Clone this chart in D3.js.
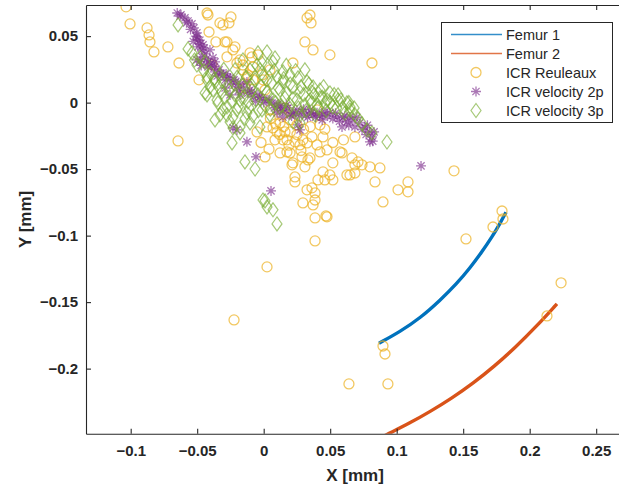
<!DOCTYPE html>
<html>
<head>
<meta charset="utf-8">
<script src="https://cdn.jsdelivr.net/npm/d3@7"></script>
<style>
  body { margin: 0; background: #fff; }
  text { font-family: "Liberation Sans", Arial, sans-serif; }
</style>
</head>
<body>
<div id="plot"></div>
<script>
// chart data, in mm
const xTicks = [-0.1, -0.05, 0, 0.05, 0.1, 0.15, 0.2, 0.25];
const yTicks = [-0.2, -0.15, -0.1, -0.05, 0, 0.05];
const seriesNames = ["Femur 1", "Femur 2", "ICR Reuleaux", "ICR velocity 2p", "ICR velocity 3p"];

const femur1 = [
  [0.0867, -0.1809], [0.1025, -0.1722], [0.1175, -0.1621], [0.1325, -0.1488],
  [0.1451, -0.1362], [0.1551, -0.1243], [0.1639, -0.1125], [0.1718, -0.1008],
  [0.1775, -0.0912], [0.1822, -0.0824]
];
const femur2 = [
  [0.085, -0.2535], [0.0935, -0.2491], [0.1095, -0.2411], [0.1255, -0.2321],
  [0.1415, -0.2222], [0.1575, -0.211], [0.1735, -0.1982], [0.1895, -0.1838],
  [0.2055, -0.1678], [0.2205, -0.1513]
];

const reuleaux = [
  [-0.1035, 0.072], [-0.1005, 0.0592], [-0.0877, 0.0562], [-0.0862, 0.0509], [-0.0855, 0.0456],
  [-0.0825, 0.0381], [-0.072, 0.0419], [-0.0637, 0.0298], [-0.0426, 0.0674], [-0.0419, 0.0659],
  [-0.0306, 0.0584], [-0.0246, 0.0644], [-0.0261, 0.0599], [-0.0411, 0.0531], [-0.0359, 0.0456],
  [-0.0276, 0.0456], [-0.0216, 0.0419], [-0.0231, 0.0396], [-0.0088, 0.0344], [-0.0043, 0.0359],
  [0.022, 0.0298], [-0.0486, 0.0171], [-0.0644, -0.0288], [0.001, -0.0408], [0.01, -0.022],
  [0.0175, -0.028], [0.0198, -0.0378], [0.022, -0.0453], [0.0288, -0.0408], [0.0348, -0.0416],
  [0.031, -0.0483], [0.0235, -0.0596], [0.0326, -0.0656], [0.0363, -0.0641], [0.0386, -0.0679],
  [0.0295, -0.0754], [0.0371, -0.0769], [0.0386, -0.0732], [0.0386, -0.0867], [0.0468, -0.0852],
  [0.0386, -0.104], [0.0025, -0.1235], [-0.0223, -0.1634], [0.046, -0.0581], [0.052, -0.0581],
  [0.0085, -0.028], [0.0145, -0.028], [0.016, -0.022], [0.0235, -0.0295], [0.0295, -0.028],
  [0.0363, -0.0258], [0.0423, -0.0168], [0.0401, -0.0318], [0.0273, -0.0318], [0.0333, -0.0431],
  [0.0423, -0.0371], [0.0574, -0.0371], [0.0589, -0.0378], [0.0664, -0.0416], [0.0686, -0.0468],
  [0.0709, -0.0446], [0.0649, -0.0544], [0.0799, -0.0483], [0.0874, -0.0491], [0.0498, -0.0544],
  [0.0446, -0.0521], [0.0408, -0.0581], [0.0235, -0.0559], [0.0213, -0.0468], [0.0123, -0.0378],
  [0.0175, -0.0371], [0.0446, -0.0258], [0.0476, -0.0356], [0.0686, -0.0258], [0.007, -0.019],
  [0.0326, -0.0303], [0.052, -0.0453], [0.0739, -0.0468], [0.0686, -0.0529], [0.0626, -0.0544],
  [0.0837, -0.0596], [0.0897, -0.0747], [0.101, -0.0656], [0.1085, -0.0596], [0.1085, -0.0671],
  [0.1431, -0.0513], [0.0476, -0.0859], [0.1521, -0.1025], [0.1724, -0.0935], [0.1792, -0.0815],
  [0.1799, -0.0875], [0.0326, 0.0637], [0.0348, 0.0659], [0.0356, 0.0599], [0.031, 0.0456],
  [0.0371, 0.0396], [0.0498, 0.0359], [0.0814, 0.0298], [-0.0329, 0.0599], [-0.0291, 0.0456],
  [-0.0103, 0.0374], [-0.0276, 0.0344], [-0.0201, 0.0298], [-0.0156, 0.0283], [-0.008, 0.0268],
  [-0.0013, 0.0208], [-0.0005, 0.0171], [-0.0126, 0.0193], [0.2236, -0.1355], [0.213, -0.1604],
  [0.0897, -0.183], [0.0912, -0.189], [0.0641, -0.2115], [0.0934, -0.2115], [-0.005, -0.022],
  [0.0025, -0.0183], [0.0123, -0.0153], [-0.0118, 0.0208], [-0.008, 0.0171], [-0.0156, 0.0246],
  [0.001, 0.0095], [0.0137, -0.0092], [0.0198, -0.013], [0.025, -0.0168], [0.016, -0.004],
  [0.0047, -0.0055], [-0.0178, 0.0321], [-0.0389, 0.0284], [0.0047, 0.0246], [0.0401, -0.0055],
  [-0.0141, 0.011], [0.005, -0.012], [0.009, -0.016], [0.015, -0.018], [0.02, -0.022],
  [0.025, -0.024], [0.03, -0.02], [0.035, -0.018], [0.012, -0.024], [0.019, -0.032],
  [0.028, -0.036], [0.046, -0.02], [0.052, -0.03], [0.06, -0.028], [-0.002, -0.03],
  [0.004, -0.035]
];

const velocity2p = [
  [-0.065, 0.0674], [-0.0622, 0.066], [-0.0592, 0.0637], [-0.0569, 0.0614], [-0.0539, 0.0592],
  [-0.0524, 0.0562], [-0.0502, 0.0524], [-0.0502, 0.0494], [-0.0494, 0.0471], [-0.0479, 0.0441],
  [-0.0494, 0.0419], [-0.0456, 0.0434], [-0.0464, 0.0396], [-0.0404, 0.0396], [-0.0441, 0.0366],
  [-0.0464, 0.0344], [-0.0381, 0.0336], [-0.0502, 0.0321], [-0.0479, 0.0306], [-0.0419, 0.0306],
  [-0.0419, 0.0268], [-0.0389, 0.0276], [-0.0366, 0.0231], [-0.0336, 0.0246], [-0.0306, 0.0208],
  [-0.0283, 0.0216], [-0.0253, 0.0186], [-0.0223, 0.0171], [-0.0201, 0.0118], [-0.0171, 0.014],
  [-0.0126, 0.0155], [-0.0103, 0.0095], [-0.008, 0.0043], [-0.0043, 0.0058], [-0.0013, 0.0035],
  [0.0025, 0.002], [0.0062, -0.0002], [0.01, -0.0017], [0.0123, -0.0032], [0.0153, -0.0055],
  [0.0182, -0.004], [0.022, -0.0077], [0.025, -0.0055], [0.0288, -0.007], [0.0318, -0.0092],
  [0.0348, -0.0055], [0.0371, -0.0092], [0.0401, -0.0077], [0.0446, -0.0092], [0.0461, -0.007],
  [0.0498, -0.0077], [0.0551, -0.0108], [0.0596, -0.0115], [0.0626, -0.0145], [0.0649, -0.0108],
  [0.0671, -0.013], [0.0686, -0.0183], [0.0589, -0.0183], [0.0724, -0.0153], [0.0762, -0.019],
  [0.0799, -0.0221], [0.0814, -0.0258], [0.0799, -0.0295], [0.0258, -0.0168], [0.0273, -0.0205],
  [-0.0231, -0.019], [-0.0201, -0.0205], [-0.0126, -0.0295], [-0.0058, -0.0408], [0.0055, -0.0664],
  [0.1183, -0.0476], [-0.0178, 0.0058], [-0.029, 0.011], [-0.0253, 0.0058], [0.0145, -0.0108],
  [0.01, -0.0077], [0.0198, -0.0092], [-0.0366, 0.0306],
  [-0.063, 0.065], [-0.058, 0.06], [-0.055, 0.055], [-0.051, 0.05], [-0.053, 0.046],
  [-0.048, 0.047], [-0.045, 0.041], [-0.043, 0.033], [-0.047, 0.028], [-0.04, 0.029],
  [-0.037, 0.027], [-0.035, 0.02], [-0.032, 0.022], [-0.029, 0.017], [-0.027, 0.019],
  [-0.024, 0.014], [-0.021, 0.016], [-0.019, 0.009], [-0.015, 0.011], [-0.012, 0.007],
  [-0.009, 0.008], [-0.006, 0.001], [-0.003, 0.004], [0.0, 0.0], [0.004, 0.002],
  [0.008, -0.004], [0.011, -0.001], [0.014, -0.006], [0.017, -0.002], [0.021, -0.01],
  [0.024, -0.008], [0.027, -0.01], [0.03, -0.005], [0.033, -0.011], [0.036, -0.008],
  [0.039, -0.011], [0.042, -0.01], [0.044, -0.013], [0.048, -0.01], [0.052, -0.012],
  [0.054, -0.008], [0.057, -0.014], [0.061, -0.01], [0.064, -0.017], [0.07, -0.011],
  [0.074, -0.02], [0.077, -0.024], [0.078, -0.017], [0.082, -0.029], [0.083, -0.022]
];

const velocity3p = [
  [-0.0644, 0.0584], [-0.0569, 0.0404], [-0.0539, 0.0374], [-0.0502, 0.0283], [-0.0441, 0.0306],
  [-0.0426, 0.0193], [-0.0426, 0.0171], [-0.0404, 0.0118], [-0.0441, 0.0073], [-0.0426, 0.0058],
  [-0.0381, 0.0095], [-0.0351, 0.002], [-0.0344, -0.0002], [-0.0366, 0.0156], [-0.0329, 0.0208],
  [-0.0314, 0.008], [-0.0306, -0.0055], [-0.0276, -0.0032], [-0.0276, -0.0092], [-0.0268, 0.0133],
  [-0.0253, -0.0145], [-0.0231, -0.0108], [-0.0231, -0.019], [-0.0216, 0.0058], [-0.0201, -0.0055],
  [-0.0178, -0.0183], [-0.0178, -0.0228], [-0.0178, 0.002], [-0.0156, 0.0133], [-0.0126, -0.0077],
  [-0.0118, 0.0005], [-0.0103, -0.0153], [-0.0088, 0.0095], [-0.0238, -0.0303], [-0.0141, -0.0446],
  [-0.0065, -0.0499], [-0.0065, 0.0171], [-0.0043, 0.0374], [-0.0043, 0.0058], [-0.0028, -0.0183],
  [-0.0013, 0.0298], [-0.0013, -0.0055], [0.0025, 0.0381], [0.0025, 0.0171], [0.0025, 0.008],
  [0.0047, -0.0092], [0.007, 0.0306], [0.007, 0.002], [0.01, 0.0193], [0.0123, -0.004],
  [0.0123, 0.0095], [0.0145, 0.0231], [0.016, 0.0035], [0.0198, 0.0208], [0.0198, -0.0017],
  [0.022, 0.0118], [0.022, -0.0145], [0.025, 0.002], [0.0258, 0.0186], [0.0273, 0.008],
  [0.0273, -0.0153], [0.031, -0.0017], [0.0326, 0.0156], [0.0348, 0.002], [0.0363, 0.008],
  [0.0371, 0.0118], [0.0401, -0.0017], [0.0423, 0.0095], [0.0423, 0.0035], [0.0461, -0.0002],
  [0.0476, 0.002], [0.0498, 0.0073], [0.052, -0.0032], [0.0559, 0.0058], [0.0559, 0.002],
  [0.0596, -0.004], [0.0626, -0.0002], [0.0649, -0.0032], [0.0649, -0.0055], [0.0686, -0.0092],
  [0.0777, -0.0206], [0.0927, -0.0296], [0.0814, -0.0228], [-0.0005, -0.0732], [0.001, -0.0739],
  [0.0025, -0.0784], [0.007, -0.0806], [0.01, -0.0912], [-0.0366, -0.013], [-0.0329, -0.0092],
  [-0.0103, 0.0246], [-0.0156, 0.0321], [-0.0216, 0.0246], [0.0085, 0.0336], [0.0145, 0.0156],
  [0.031, 0.0246], [-0.0028, 0.0246], [0.0273, -0.0092], [0.0386, -0.0092],
  [-0.045, 0.024], [-0.04, 0.022], [-0.037, 0.018], [-0.034, 0.012], [-0.031, 0.016],
  [-0.029, 0.004], [-0.026, 0.009], [-0.024, 0.001], [-0.022, 0.014], [-0.02, 0.019],
  [-0.019, -0.003], [-0.017, 0.008], [-0.015, 0.004], [-0.014, -0.012], [-0.013, 0.019],
  [-0.011, -0.004], [-0.009, 0.013], [-0.008, -0.01], [-0.006, 0.002], [-0.005, 0.028],
  [-0.004, -0.006], [-0.002, 0.012], [0.0, 0.02], [0.001, -0.002], [0.003, 0.028],
  [0.004, 0.005], [0.005, -0.005], [0.006, 0.015], [0.008, 0.024], [0.009, 0.0],
  [0.011, 0.011], [0.013, -0.002], [0.015, 0.018], [0.017, 0.007], [0.018, -0.006],
  [0.02, 0.014], [0.022, 0.003], [0.024, 0.024], [0.026, -0.004], [0.028, 0.012],
  [0.03, 0.006], [0.032, -0.006], [0.034, 0.014], [0.036, 0.0], [0.038, 0.006],
  [0.041, -0.004], [0.044, 0.004], [0.047, -0.006], [0.05, 0.0], [0.053, 0.006],
  [0.055, -0.004], [0.058, 0.002], [0.061, -0.008], [0.064, 0.0], [0.068, -0.004],
  [0.071, -0.012], [0.074, -0.016], [-0.048, 0.034], [-0.052, 0.032], [-0.03, 0.025],
  [0.017, 0.028], [0.045, 0.012]
];

// Width and height
const w = 619;
const h = 490;
const margin = {top: 5, left: 86};
const pxPerUnit = 1330;

const colors = {
  femur1: "#0072BD",
  femur2: "#D95319",
  reuleaux: "#EDB120",
  vel2p: "#7E2F8E",
  vel3p: "#77AC30"
};

const xScale = d3.scaleLinear()
  .domain([-0.1336, 0.268])
  .range([margin.left, margin.left + 0.4016 * pxPerUnit]);

const yScale = d3.scaleLinear()
  .domain([-0.249, 0.0734])
  .range([margin.top + 0.3224 * pxPerUnit, margin.top]);

const x0 = xScale.range()[0], x1 = xScale.range()[1];
const yTop = yScale.range()[1], yBot = yScale.range()[0];

const svg = d3.select("div#plot")
  .append("svg")
    .attr("width", w)
    .attr("height", h);

svg.append("rect")
  .attr("width", w)
  .attr("height", h)
  .attr("fill", "#fff");

svg.append("clipPath")
  .attr("id", "clip")
  .append("rect")
    .attr("x", x0)
    .attr("y", yTop)
    .attr("width", x1 - x0)
    .attr("height", yBot - yTop);

const plot = svg.append("g")
  .attr("clip-path", "url(#clip)");

// femur curves
const line = d3.line()
  .x(d => xScale(d[0]))
  .y(d => yScale(d[1]))
  .curve(d3.curveBasis);

plot.append("path")
  .datum(femur1)
  .attr("d", line)
  .attr("fill", "none")
  .attr("stroke", colors.femur1)
  .attr("stroke-width", 3.4);

plot.append("path")
  .datum(femur2)
  .attr("d", line)
  .attr("fill", "none")
  .attr("stroke", colors.femur2)
  .attr("stroke-width", 3.4);

// marker shapes
const starPath = "M-5,0H5M0,-5V5M-3.6,-3.6L3.6,3.6M-3.6,3.6L3.6,-3.6";
const diamondPath = "M0,-7L5,0L0,7L-5,0Z";

plot.selectAll("circle.reuleaux")
  .data(reuleaux)
  .enter()
  .append("circle")
    .attr("class", "reuleaux")
    .attr("cx", d => xScale(d[0]))
    .attr("cy", d => yScale(d[1]))
    .attr("r", 5)
    .attr("fill", "none")
    .attr("stroke", colors.reuleaux)
    .attr("stroke-opacity", 0.7)
    .attr("stroke-width", 1.3);

plot.selectAll("path.vel2p")
  .data(velocity2p)
  .enter()
  .append("path")
    .attr("class", "vel2p")
    .attr("transform", d => `translate(${xScale(d[0])},${yScale(d[1])})`)
    .attr("d", starPath)
    .attr("stroke", colors.vel2p)
    .attr("stroke-opacity", 0.65)
    .attr("stroke-width", 1.3);

plot.selectAll("path.vel3p")
  .data(velocity3p)
  .enter()
  .append("path")
    .attr("class", "vel3p")
    .attr("transform", d => `translate(${xScale(d[0])},${yScale(d[1])})`)
    .attr("d", diamondPath)
    .attr("fill", "none")
    .attr("stroke", colors.vel3p)
    .attr("stroke-opacity", 0.65)
    .attr("stroke-width", 1.2);

// axes, MATLAB style ticks pointing inward
const fmt = d3.format("~g");
const axisColor = "#262626";

const xAxis = d3.axisBottom(xScale)
  .tickValues(xTicks)
  .tickFormat(fmt)
  .tickSizeInner(-5)
  .tickSizeOuter(0)
  .tickPadding(12);

const yAxis = d3.axisLeft(yScale)
  .tickValues(yTicks)
  .tickFormat(fmt)
  .tickSizeInner(-5)
  .tickSizeOuter(0)
  .tickPadding(8);

const xTop = d3.axisTop(xScale)
  .tickValues(xTicks)
  .tickFormat("")
  .tickSizeInner(-5)
  .tickSizeOuter(0);

svg.append("g")
  .attr("id", "xaxis")
  .attr("transform", `translate(0, ${yBot})`)
  .call(xAxis);

svg.append("g")
  .attr("id", "yaxis")
  .attr("transform", `translate(${x0}, 0)`)
  .call(yAxis);

svg.append("g")
  .attr("id", "xtop")
  .attr("transform", `translate(0, ${yTop})`)
  .call(xTop);

svg.selectAll("#xaxis, #yaxis, #xtop")
  .selectAll("path, line")
  .attr("stroke", axisColor)
  .attr("stroke-width", 1.1);

svg.selectAll("#xaxis text, #yaxis text")
  .attr("fill", axisColor)
  .style("font-size", "15px")
  .style("font-weight", "bold");

// axis labels
svg.append("text")
  .attr("x", (x0 + x1) / 2 + 2)
  .attr("y", 481)
  .attr("text-anchor", "middle")
  .attr("fill", axisColor)
  .style("font-size", "17px")
  .style("font-weight", "bold")
  .text("X [mm]");

svg.append("text")
  .attr("transform", `translate(31, ${(yTop + yBot) / 2}) rotate(-90)`)
  .attr("text-anchor", "middle")
  .attr("fill", axisColor)
  .style("font-size", "17px")
  .style("font-weight", "bold")
  .text("Y [mm]");

// legend
const legend = svg.append("g")
  .attr("transform", "translate(441, 22)");

legend.append("rect")
  .attr("x", 0.5)
  .attr("y", 0.5)
  .attr("width", 171)
  .attr("height", 100)
  .attr("fill", "#fff")
  .attr("stroke", axisColor)
  .attr("stroke-width", 1);

const rowY = i => 12.5 + i * 19;

legend.append("line")
  .attr("x1", 10).attr("x2", 61)
  .attr("y1", rowY(0)).attr("y2", rowY(0))
  .attr("stroke", colors.femur1)
  .attr("stroke-opacity", 0.8)
  .attr("stroke-width", 1.3);

legend.append("line")
  .attr("x1", 10).attr("x2", 61)
  .attr("y1", rowY(1)).attr("y2", rowY(1))
  .attr("stroke", colors.femur2)
  .attr("stroke-opacity", 0.8)
  .attr("stroke-width", 1.3);

legend.append("circle")
  .attr("cx", 35).attr("cy", rowY(2))
  .attr("r", 5)
  .attr("fill", "none")
  .attr("stroke", colors.reuleaux)
  .attr("stroke-opacity", 0.7)
  .attr("stroke-width", 1.3);

legend.append("path")
  .attr("transform", `translate(35, ${rowY(3)})`)
  .attr("d", starPath)
  .attr("stroke", colors.vel2p)
  .attr("stroke-opacity", 0.65)
  .attr("stroke-width", 1.3);

legend.append("path")
  .attr("transform", `translate(35, ${rowY(4)})`)
  .attr("d", diamondPath)
  .attr("fill", "none")
  .attr("stroke", colors.vel3p)
  .attr("stroke-opacity", 0.65)
  .attr("stroke-width", 1.2);

legend.selectAll("text.entry")
  .data(seriesNames)
  .enter()
  .append("text")
    .attr("class", "entry")
    .attr("x", 65)
    .attr("y", (d, i) => rowY(i))
    .attr("dy", "0.36em")
    .attr("fill", axisColor)
    .style("font-size", "14.5px")
    .text(d => d);
</script>
</body>
</html>
